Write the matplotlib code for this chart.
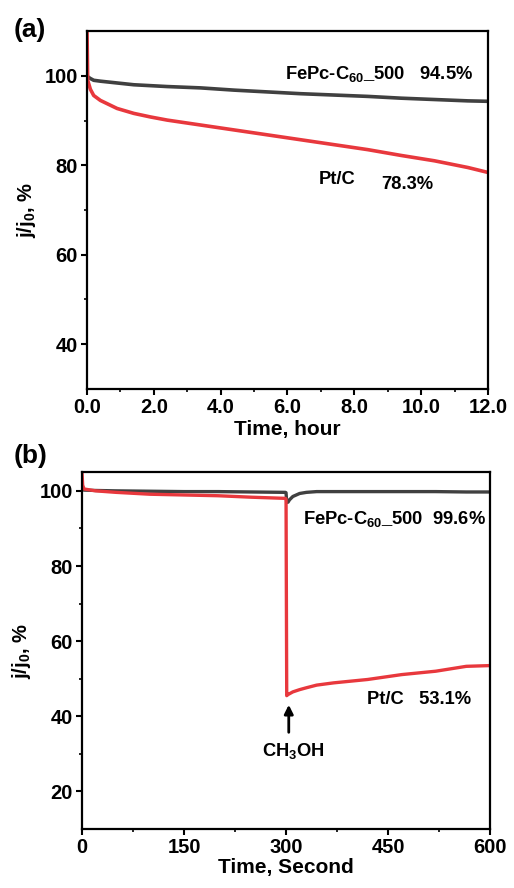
import matplotlib
matplotlib.use("Agg")
import matplotlib.pyplot as plt

plt.rcParams['font.family'] = ['Liberation Sans', 'DejaVu Sans']
plt.rcParams['font.weight'] = 'bold'
plt.rcParams['mathtext.fontset'] = 'custom'
plt.rcParams['mathtext.rm'] = 'Liberation Sans:bold'
plt.rcParams['mathtext.it'] = 'Liberation Sans:bold'
plt.rcParams['mathtext.bf'] = 'Liberation Sans:bold'

# (a) long-term stability, time in hours
t_a = [0.0, 0.02, 0.1, 0.2, 0.4, 0.9, 1.4, 1.9, 2.4, 3.4, 4.4, 5.4, 6.4, 7.4, 8.4, 9.4, 10.4, 11.4, 12.0]
fepc_a = [100.0, 99.8, 99.4, 99.0, 98.8, 98.4, 98.0, 97.8, 97.6, 97.3, 96.8, 96.4, 96.0, 95.7, 95.4, 95.0, 94.7, 94.4, 94.3]
ptc_a = [110.0, 99.0, 97.0, 95.6, 94.5, 92.7, 91.6, 90.8, 90.1, 89.0, 87.9, 86.8, 85.7, 84.6, 83.5, 82.2, 81.0, 79.5, 78.4]

# (b) methanol tolerance, time in seconds
t_b = [0, 1, 3, 20, 50, 100, 150, 200, 250, 299, 300, 301, 303, 305, 310, 320, 330, 345, 370, 420, 470, 520, 565, 600]
fepc_b = [100.4, 100.3, 100.2, 100.1, 100.0, 99.9, 99.8, 99.8, 99.7, 99.6, 99.5, 96.9, 97.0, 97.6, 98.5, 99.3, 99.6, 99.8, 99.8, 99.8, 99.8, 99.8, 99.7, 99.7]
ptc_b = [105.0, 101.5, 100.5, 100.0, 99.6, 99.1, 98.9, 98.7, 98.3, 98.0, 97.8, 45.5, 45.8, 46.0, 46.5, 47.1, 47.6, 48.3, 48.9, 49.8, 51.1, 52.0, 53.3, 53.5]

gray = '#404040'
red = '#e8383d'

fig = plt.figure(figsize=(5.14, 8.88), dpi=100)
ax1 = fig.add_axes([0.1693, 0.562, 0.780, 0.403])
ax2 = fig.add_axes([0.1595, 0.0664, 0.794, 0.402])

ax1.plot(t_a, fepc_a, color=gray, lw=2.6)
ax1.plot(t_a, ptc_a, color=red, lw=2.6)
ax1.set_xlim(0, 12)
ax1.set_ylim(30, 110)
ax1.set_xticks([0, 2, 4, 6, 8, 10, 12])
ax1.set_xticklabels(['0.0', '2.0', '4.0', '6.0', '8.0', '10.0', '12.0'])
ax1.set_xticks([1, 3, 5, 7, 9, 11], minor=True)
ax1.set_yticks([40, 60, 80, 100])
ax1.set_yticks([50, 70, 90], minor=True)
ax1.set_xlabel('Time, hour', fontsize=15, fontweight='bold', labelpad=2)
ax1.set_ylabel('j/j$_0$, %', fontsize=14.5, fontweight='bold', labelpad=5)
ax1.text(5.93, 100.4, 'FePc-C$_{60}$_500   94.5%', fontsize=13.2, fontweight='bold', va='center')
ax1.text(6.95, 76.9, 'Pt/C', fontsize=13.2, fontweight='bold', va='center')
ax1.text(8.8, 75.8, '78.3%', fontsize=13.2, fontweight='bold', va='center')
fig.text(0.027, 0.966, '(a)', fontsize=19, fontweight='bold', va='center')

ax2.plot(t_b, fepc_b, color=gray, lw=2.4)
ax2.plot(t_b, ptc_b, color=red, lw=2.4)
ax2.set_xlim(0, 600)
ax2.set_ylim(10, 105)
ax2.set_xticks([0, 150, 300, 450, 600])
ax2.set_xticks([75, 225, 375, 525], minor=True)
ax2.set_yticks([20, 40, 60, 80, 100])
ax2.set_yticks([30, 50, 70, 90], minor=True)
ax2.set_xlabel('Time, Second', fontsize=15, fontweight='bold', labelpad=1)
ax2.set_ylabel('j/j$_0$, %', fontsize=14.5, fontweight='bold', labelpad=5)
ax2.text(325, 92.5, 'FePc-C$_{60}$_500  99.6%', fontsize=13.2, fontweight='bold', va='center')
ax2.text(419, 44.4, 'Pt/C   53.1%', fontsize=13.2, fontweight='bold', va='center')
ax2.annotate('', xy=(304, 43.8), xytext=(304, 35.0),
             arrowprops=dict(arrowstyle='-|>', color='black', lw=2.0, mutation_scale=13))
ax2.text(310, 30.7, 'CH$_3$OH', fontsize=13.2, fontweight='bold', ha='center', va='center')
fig.text(0.027, 0.487, '(b)', fontsize=19, fontweight='bold', va='center')

for ax in (ax1, ax2):
    for s in ax.spines.values():
        s.set_linewidth(1.6)
    ax.tick_params(which='major', direction='out', length=4, width=1.5, labelsize=14.5, pad=2.5)
    ax.tick_params(which='minor', direction='out', length=2.5, width=1.2)
    for lab in ax.get_xticklabels() + ax.get_yticklabels():
        lab.set_fontweight('bold')

fig.savefig('out.png', dpi=100)
